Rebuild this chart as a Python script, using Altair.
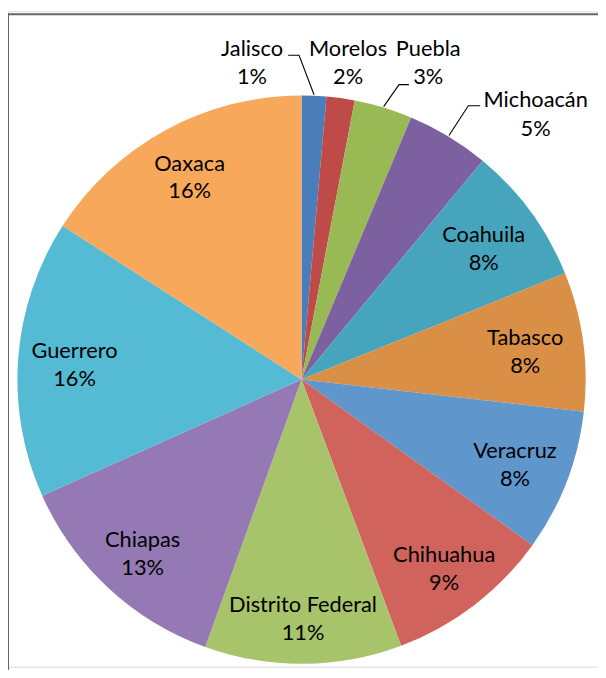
import math
import altair as alt
import pandas as pd

# ---- data ----
states = ["Jalisco", "Morelos", "Puebla", "Michoacán", "Coahuila", "Tabasco",
          "Veracruz", "Chihuahua", "Distrito Federal", "Chiapas", "Guerrero", "Oaxaca"]
values = [1.4, 1.6, 3.3, 4.7, 7.9, 7.9, 8.1, 9.4, 11.2, 12.8, 15.8, 15.9]
pct_labels = ["1%", "2%", "3%", "5%", "8%", "8%", "8%", "9%", "11%", "13%", "16%", "16%"]
colors = ["#4a7ebb", "#be4b48", "#98b954", "#7d60a0", "#46a5bd", "#d98f45",
          "#5f96cc", "#d1635d", "#a8c46a", "#9579b4", "#55bad4", "#f8a85a"]

outside = ["Jalisco", "Morelos", "Puebla", "Michoacán"]

# ---- layout (pixel units of the plot area) ----
W, H = 596, 662
CX, CY = 296.5, 372.0
R = 287
FONT = "Lato"
FS = 22
# label distance from centre for the inside labels (best-fit placement)
label_radius = {"Coahuila": 228, "Tabasco": 228, "Veracruz": 231, "Chihuahua": 237,
                "Distrito Federal": 239, "Chiapas": 236, "Guerrero": 230, "Oaxaca": 236}

# outside label anchor (centre x, baseline of first line)
out_pos = {"Jalisco": (246.5, 45), "Morelos": (343.5, 45),
           "Puebla": (424.5, 45), "Michoacán": (533, 97)}
# leader line bend & end points
leaders = {"Jalisco": [(294, 44.3), (283, 44.3)],
           "Puebla": [(395, 74), (405, 74)],
           "Michoacán": [(465, 95.3), (477, 95.3)]}

df = pd.DataFrame({"state": states, "value": values, "pct": pct_labels,
                   "order": list(range(len(states)))})
df["inside"] = ~df["state"].isin(outside)
df["lr"] = [label_radius.get(s, 0) for s in states]

total = sum(values)
cum = 0.0
mids = {}
for s, v in zip(states, values):
    mids[s] = (cum + v / 2) / total * 2 * math.pi
    cum += v

rows = []
for s, pts in leaders.items():
    a = mids[s]
    rows.append({"state": s, "seq": 0, "x": CX + (R + 1) * math.sin(a), "y": CY - (R + 1) * math.cos(a)})
    for i, (px, py) in enumerate(pts):
        rows.append({"state": s, "seq": i + 1, "x": px, "y": py})
lead_df = pd.DataFrame(rows)

out_df = pd.DataFrame({"state": outside,
                       "pct": [pct_labels[states.index(s)] for s in outside],
                       "x": [out_pos[s][0] for s in outside],
                       "y": [out_pos[s][1] for s in outside]})

color_scale = alt.Scale(domain=states, range=colors)
xs = alt.Scale(domain=[0, W], range=[0, W])
ys = alt.Scale(domain=[0, H], range=[0, H])

arcs = alt.Chart(df).mark_arc(outerRadius=R).encode(
    theta=alt.Theta("value:Q", stack=True),
    order=alt.Order("order:Q", sort="ascending"),
    color=alt.Color("state:N", scale=color_scale, legend=None),
    x=alt.value(CX), y=alt.value(CY),
)

# inside labels: position at the middle angle of each slice
lab_base = alt.Chart(df).transform_window(
    cum="sum(value)", sort=[alt.SortField("order")], frame=[None, 0]
).transform_joinaggregate(
    tot="sum(value)"
).transform_calculate(
    mid="(datum.cum - datum.value / 2) / datum.tot * 2 * PI"
).transform_calculate(
    lx=f"{CX} + datum.lr * sin(datum.mid)",
    ly=f"{CY} - datum.lr * cos(datum.mid)",
).transform_filter("datum.inside")

name_in = lab_base.mark_text(font=FONT, fontSize=FS, color="#000", baseline="middle", dy=-11).encode(
    x=alt.X("lx:Q", scale=xs, axis=None), y=alt.Y("ly:Q", scale=ys, axis=None), text="state:N")
pct_in = lab_base.mark_text(font=FONT, fontSize=FS, color="#000", baseline="middle", dy=17).encode(
    x=alt.X("lx:Q", scale=xs, axis=None), y=alt.Y("ly:Q", scale=ys, axis=None), text="pct:N")

lines = alt.Chart(lead_df).mark_line(color="#000", strokeWidth=1.1).encode(
    x=alt.X("x:Q", scale=xs, axis=None),
    y=alt.Y("y:Q", scale=ys, axis=None),
    detail="state:N",
    order="seq:Q",
)

out_name = alt.Chart(out_df).mark_text(font=FONT, fontSize=FS, color="#000",
                                       baseline="alphabetic", align="center").encode(
    x=alt.X("x:Q", scale=xs, axis=None), y=alt.Y("y:Q", scale=ys, axis=None), text="state:N")
out_pct = alt.Chart(out_df).mark_text(font=FONT, fontSize=FS, color="#000",
                                      baseline="alphabetic", align="center", dy=28.5).encode(
    x=alt.X("x:Q", scale=xs, axis=None), y=alt.Y("y:Q", scale=ys, axis=None), text="pct:N")

frame_df = pd.DataFrame({"k": [0]})
left_rule = alt.Chart(frame_df).mark_rule(color="#666", strokeWidth=2).encode(
    x=alt.value(0), y=alt.value(2), y2=alt.value(H + 20))
top_rule = alt.Chart(frame_df).mark_rule(color="#666", strokeWidth=2).encode(
    x=alt.value(-1), x2=alt.value(W + 20), y=alt.value(3))

chart = alt.layer(arcs, name_in, pct_in, lines, out_name, out_pct, left_rule, top_rule).properties(
    width=W, height=H, padding=0,
    autosize=alt.AutoSizeParams(type="none"),
).configure_view(stroke=None).configure(background="white")

chart.save("out.html", embed_options={"renderer": "svg", "actions": False})
